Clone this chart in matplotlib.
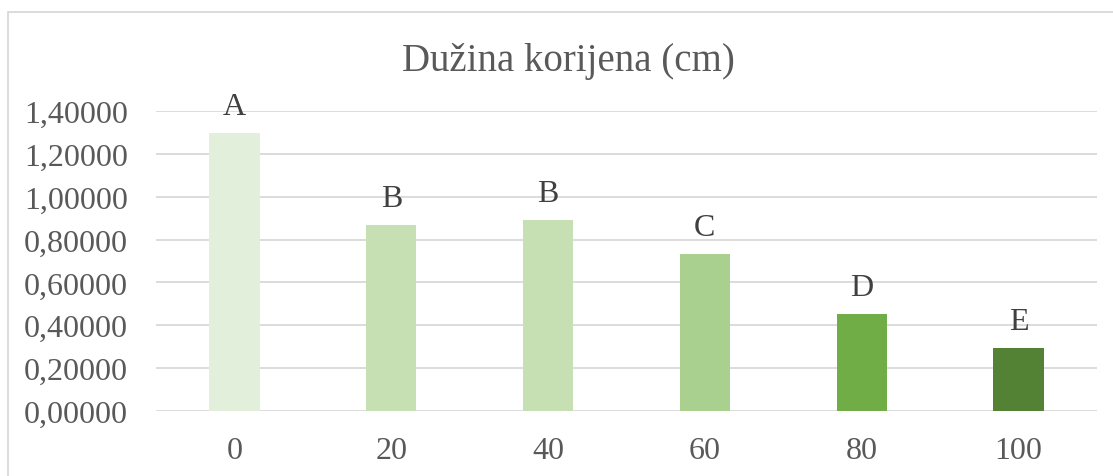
import matplotlib
matplotlib.use("Agg")
import matplotlib.pyplot as plt
from matplotlib.patches import Rectangle

# -----------------------
# Data
# -----------------------
categories = ["0", "20", "40", "60", "80", "100"]
values = [1.297, 0.868, 0.891, 0.733, 0.453, 0.294]
letters = ["A", "B", "B", "C", "D", "E"]
colors = ["#E2EFDA", "#C6E0B4", "#C6E0B4", "#A9D08E", "#70AD47", "#548235"]
y_ticks = [0.0, 0.2, 0.4, 0.6, 0.8, 1.0, 1.2, 1.4]

plt.rcParams["font.family"] = ["Liberation Serif", "DejaVu Serif"]

W, H = 1113, 477
fig = plt.figure(figsize=(W / 100, H / 100), dpi=100)
ax = fig.add_axes([156 / W, 1 - 412 / H, (1097 - 156) / W, 300 / H])

x = range(len(categories))
ax.bar(x, values, width=0.32, color=colors, zorder=3)

# significance letters above bars
for i, (v, lab) in enumerate(zip(values, letters)):
    ax.annotate(lab, (i, v), xytext=(0, 19), textcoords="offset points",
                ha="center", va="center", fontsize=23, color="#404040")

ax.set_xlim(-0.5, len(categories) - 0.5)
ax.set_ylim(0, 1.4)
ax.set_yticks(y_ticks)
ax.set_yticklabels([f"{t:.5f}".replace(".", ",") for t in y_ticks])
ax.set_xticks(list(x))
ax.set_xticklabels(categories)
ax.tick_params(axis="both", length=0, labelsize=23, labelcolor="#595959")
ax.tick_params(axis="y", pad=20)
ax.tick_params(axis="x", pad=18)
ax.grid(axis="y", color="#D9D9D9", linewidth=1.3, zorder=0)
for s in ax.spines.values():
    s.set_visible(False)

fig.text(568 / W, 1 - 61 / H, "Dužina korijena (cm)", ha="center", va="center",
         fontsize=28, color="#595959")

# chart border
fig.patches.append(Rectangle((7.5 / W, -0.1), 1.2, 1 - 12.5 / H + 0.1,
                             transform=fig.transFigure, fill=False,
                             edgecolor="#D9D9D9", linewidth=1.3))

fig.savefig("out.png", dpi=100, facecolor="white")
